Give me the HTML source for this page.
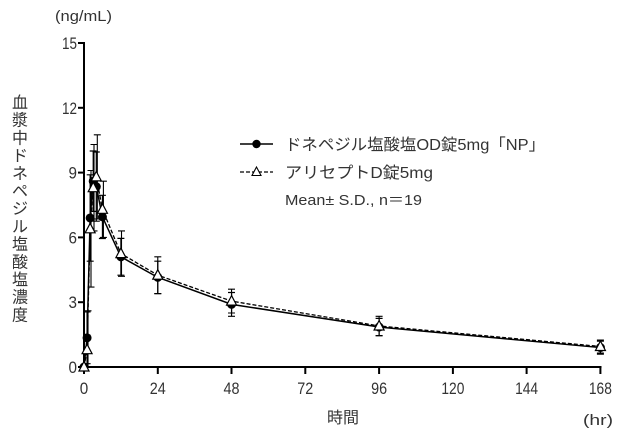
<!DOCTYPE html>
<html>
<head>
<meta charset="utf-8">
<style>
  html, body { margin:0; padding:0; background:#fff; }
  body { width:620px; height:433px; overflow:hidden; }
  svg { display:block; }
  text { font-family: "Liberation Sans", "Noto Sans CJK JP", sans-serif; fill:#333; }
</style>
</head>
<body>
<svg width="620" height="433" viewBox="0 0 620 433" xmlns="http://www.w3.org/2000/svg">
  <!-- unit label -->
  <text x="55" y="21" font-size="15" textLength="57" lengthAdjust="spacingAndGlyphs">(ng/mL)</text>

  <!-- y-axis title (vertical) -->
  <g font-size="16" text-anchor="middle">
    <text x="20" y="108">血</text>
    <text x="20" y="125.7">漿</text>
    <text x="20" y="143.4">中</text>
    <text x="20" y="161.1">ド</text>
    <text x="20" y="178.8">ネ</text>
    <text x="20" y="196.5">ペ</text>
    <text x="20" y="214.2">ジ</text>
    <text x="20" y="231.9">ル</text>
    <text x="20" y="249.6">塩</text>
    <text x="20" y="267.3">酸</text>
    <text x="20" y="285">塩</text>
    <text x="20" y="302.7">濃</text>
    <text x="20" y="320.4">度</text>
  </g>

  <!-- axes -->
  <g stroke="#000" stroke-width="2" fill="none">
    <line x1="84" y1="42" x2="84" y2="368"/>
    <line x1="83" y1="367" x2="601.5" y2="367"/>
    <!-- y ticks -->
    <line x1="78" y1="43" x2="84" y2="43"/>
    <line x1="78" y1="107.8" x2="84" y2="107.8"/>
    <line x1="78" y1="172.6" x2="84" y2="172.6"/>
    <line x1="78" y1="237.4" x2="84" y2="237.4"/>
    <line x1="78" y1="302.2" x2="84" y2="302.2"/>
    <line x1="78" y1="367" x2="84" y2="367"/>
    <!-- x ticks -->
    <line x1="84" y1="367" x2="84" y2="374"/>
    <line x1="157.8" y1="367" x2="157.8" y2="374"/>
    <line x1="231.5" y1="367" x2="231.5" y2="374"/>
    <line x1="305.3" y1="367" x2="305.3" y2="374"/>
    <line x1="379.1" y1="367" x2="379.1" y2="374"/>
    <line x1="452.9" y1="367" x2="452.9" y2="374"/>
    <line x1="526.6" y1="367" x2="526.6" y2="374"/>
    <line x1="600.4" y1="367" x2="600.4" y2="374"/>
  </g>

  <!-- y tick labels -->
  <g font-size="17" text-anchor="end">
    <text x="77" y="49" textLength="15" lengthAdjust="spacingAndGlyphs">15</text>
    <text x="77" y="113.8" textLength="15" lengthAdjust="spacingAndGlyphs">12</text>
    <text x="77" y="178.6" textLength="8.5" lengthAdjust="spacingAndGlyphs">9</text>
    <text x="77" y="243.4" textLength="8.5" lengthAdjust="spacingAndGlyphs">6</text>
    <text x="77" y="308.2" textLength="8.5" lengthAdjust="spacingAndGlyphs">3</text>
    <text x="77" y="373" textLength="8.5" lengthAdjust="spacingAndGlyphs">0</text>
  </g>

  <!-- x tick labels -->
  <g font-size="17" text-anchor="middle">
    <text x="84" y="394" textLength="8.5" lengthAdjust="spacingAndGlyphs">0</text>
    <text x="157.8" y="394" textLength="16" lengthAdjust="spacingAndGlyphs">24</text>
    <text x="231.5" y="394" textLength="16" lengthAdjust="spacingAndGlyphs">48</text>
    <text x="305.3" y="394" textLength="16" lengthAdjust="spacingAndGlyphs">72</text>
    <text x="379.1" y="394" textLength="16" lengthAdjust="spacingAndGlyphs">96</text>
    <text x="452.9" y="394" textLength="23" lengthAdjust="spacingAndGlyphs">120</text>
    <text x="526.6" y="394" textLength="23" lengthAdjust="spacingAndGlyphs">144</text>
    <text x="600.4" y="394" textLength="23" lengthAdjust="spacingAndGlyphs">168</text>
  </g>

  <!-- x axis title -->
  <text x="343" y="423" font-size="16" text-anchor="middle">時間</text>
  <text x="583" y="425" font-size="15" textLength="30" lengthAdjust="spacingAndGlyphs">(hr)</text>

  <!-- Aricept dashed line -->
  <polyline fill="none" stroke="#000" stroke-width="1.3" stroke-dasharray="4,2"
    points="84,367 87.07,349.72 90.15,228.76 93.22,187.72 96.30,176.92 102.44,209.32 120.89,253.6 157.78,275.2 231.55,301.12 379.10,325.96 600.43,346.48"/>
  <!-- NP solid line -->
  <polyline fill="none" stroke="#000" stroke-width="1.5"
    points="84,367 87.07,337.84 90.15,217.96 93.22,181.24 96.30,186.64 102.44,216.88 120.89,256.84 157.78,277.36 231.55,304.36 379.10,327.04 600.43,347.56"/>

  <!-- error bars NP -->
  <g stroke="#000" stroke-width="1.2" fill="none">
    <path d="M87.07 311.9V363.7M83.6 311.9h7M83.6 363.7h7"/>
    <path d="M90.15 174.8V261.2M86.7 174.8h7M86.7 261.2h7"/>
    <path d="M93.22 151V211.4M89.7 151h7M89.7 211.4h7"/>
    <path d="M96.3 152V221.2M92.8 152h7M92.8 221.2h7"/>
    <path d="M102.44 195.3V238.5M98.9 195.3h7M98.9 238.5h7"/>
    <path d="M120.89 238.4V275.2M117.4 238.4h7M117.4 275.2h7"/>
    <path d="M157.78 261.2V293.6M154.3 261.2h7M154.3 293.6h7"/>
    <path d="M231.55 292.5V316.3M228 292.5h7M228 316.3h7"/>
    <path d="M379.1 318.4V335.6M375.6 318.4h7M375.6 335.6h7"/>
    <path d="M600.43 341.1V354.1M596.9 341.1h7M596.9 354.1h7"/>
  </g>
  <!-- error bars Aricept -->
  <g stroke="#000" stroke-width="1.1" fill="none">
    <path d="M88 310.8V367M84.5 310.8h7"/>
    <path d="M91 170.5V287.1M87.5 170.5h7M87.5 287.1h7"/>
    <path d="M94 144.5V230.9M90.5 144.5h7M90.5 230.9h7"/>
    <path d="M97.3 134.8V219M93.8 134.8h7M93.8 219h7"/>
    <path d="M103.4 181.2V237.4M99.9 181.2h7M99.9 237.4h7"/>
    <path d="M121.5 230.9V276.3M118 230.9h7M118 276.3h7"/>
    <path d="M157.78 256.8V293.6M154.3 256.8h7M154.3 293.6h7"/>
    <path d="M231.55 289.2V313M228 289.2h7M228 313h7"/>
    <path d="M379.1 316.3V335.7M375.6 316.3h7M375.6 335.7h7"/>
    <path d="M600.43 340V353M596.9 340h7M596.9 353h7"/>
  </g>

  <!-- NP markers -->
  <g fill="#000">
    <circle cx="84" cy="367" r="4.5"/>
    <circle cx="87.07" cy="337.84" r="4.5"/>
    <circle cx="90.15" cy="217.96" r="4.5"/>
    <circle cx="93.22" cy="181.24" r="4.5"/>
    <circle cx="96.30" cy="186.64" r="4.5"/>
    <circle cx="102.44" cy="216.88" r="4.5"/>
    <circle cx="120.89" cy="256.84" r="4.5"/>
    <circle cx="157.78" cy="277.36" r="4.5"/>
    <circle cx="231.55" cy="304.36" r="4.5"/>
    <circle cx="379.10" cy="327.04" r="4.5"/>
    <circle cx="600.43" cy="347.56" r="4.5"/>
  </g>
  <!-- Aricept markers -->
  <g fill="#fff" stroke="#000" stroke-width="1.2">
    <path d="M84 361.5L79 371L89 371Z"/>
    <path d="M87.07 344.2L82.07 353.7L92.07 353.7Z"/>
    <path d="M90.15 223.3L85.15 232.8L95.15 232.8Z"/>
    <path d="M93.22 182.2L88.22 191.7L98.22 191.7Z"/>
    <path d="M96.3 171.4L91.3 180.9L101.3 180.9Z"/>
    <path d="M102.44 203.8L97.44 213.3L107.44 213.3Z"/>
    <path d="M120.89 248.1L115.89 257.6L125.89 257.6Z"/>
    <path d="M157.78 269.7L152.78 279.2L162.78 279.2Z"/>
    <path d="M231.55 295.6L226.55 305.1L236.55 305.1Z"/>
    <path d="M379.1 320.5L374.1 330L384.1 330Z"/>
    <path d="M600.43 341L595.43 350.5L605.43 350.5Z"/>
  </g>

  <!-- legend -->
  <line x1="240" y1="144" x2="273" y2="144" stroke="#000" stroke-width="1.5"/>
  <circle cx="256.5" cy="144" r="4.2" fill="#000"/>
  <line x1="240" y1="172" x2="273" y2="172" stroke="#000" stroke-width="1.3" stroke-dasharray="4,2"/>
  <path d="M256.5 167L252 175.5L261 175.5Z" fill="#fff" stroke="#000" stroke-width="1.1"/>

  <text x="285" y="150" font-size="16" textLength="260" lengthAdjust="spacingAndGlyphs">ドネペジル塩酸塩OD錠5mg「NP」</text>
  <text x="285" y="178" font-size="16" textLength="148" lengthAdjust="spacingAndGlyphs">アリセプトD錠5mg</text>
  <text x="285" y="205" font-size="15" textLength="137" lengthAdjust="spacingAndGlyphs">Mean± S.D., n＝19</text>
</svg>
</body>
</html>
